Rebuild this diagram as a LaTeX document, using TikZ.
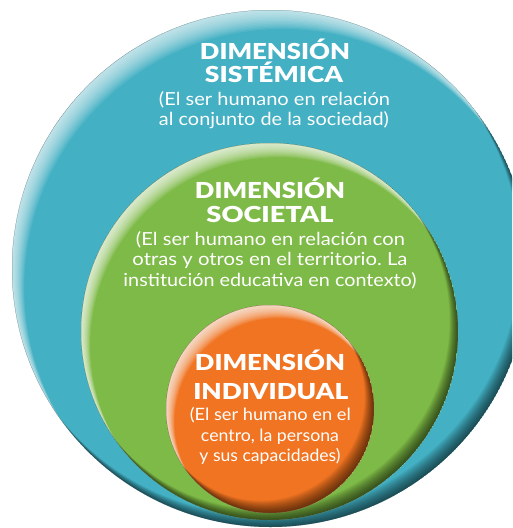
\documentclass[tikz,border=0pt]{standalone}
\usepackage{fontspec}
\usepackage{graphicx}
\setmainfont{Lato}
\IfFontExistsTF{Lato Black}{\newfontfamily\ttlfont{Lato Black}}{\newcommand{\ttlfont}{\bfseries}}
\frenchspacing
\definecolor{tealc}{RGB}{67,176,195}
\definecolor{greenc}{RGB}{126,186,71}
\definecolor{orangec}{RGB}{240,116,34}
\newcommand{\fitw}[2]{\resizebox{#1pt}{\height}{#2}}
% disc with highlight (upper-left) and shadow (lower-right)
\newcommand{\glowdisc}[7]{% cx cy r color hlstep shstep hlopacity
  \fill[#4] (#1,#2) circle (#3pt);
  \begin{scope}
    \clip (#1,#2) circle (#3pt);
    \foreach \k in {1,...,14} {
      \fill[white, opacity=#7, even odd rule] (#1,#2) circle (#3pt)
        ({#1+0.55*\k*#5},{#2+0.85*\k*#5}) circle (#3pt);
    }
    \foreach \k in {1,...,14} {
      \fill[black, opacity=0.05, even odd rule] (#1,#2) circle (#3pt)
        ({#1-0.6*\k*#6},{#2-0.8*\k*#6}) circle (#3pt);
    }
  \end{scope}
}
\tikzset{
  ttl/.style={text=white, inner sep=0pt, anchor=base, font=\fontsize{22}{22}\selectfont\ttlfont},
  sub/.style={text=white, inner sep=0pt, anchor=base, font=\fontsize{18}{18}\selectfont},
  subsm/.style={text=white, inner sep=0pt, anchor=base, font=\fontsize{17}{17}\selectfont}
}
\begin{document}
\begin{tikzpicture}[x=1pt,y=-1pt]
\useasboundingbox (0,0) rectangle (512,528);
\clip (0,0) rectangle (512,528);
\glowdisc{270.5}{268.5}{258.5}{tealc}{1.6}{1.1}{0.08}
\glowdisc{269.5}{331.5}{188.5}{greenc}{1.2}{1.0}{0.09}
\glowdisc{270}{409}{104}{orangec}{1.1}{1.1}{0.09}

\node[ttl] (s1) at (275,59) {\fitw{150}{DIMENSIÓN}};
\node[ttl] (s2) at (274,82) {\fitw{138}{SISTÉMICA}};
\node[sub] (s3) at (274.5,105) {\fitw{231}{(El ser humano en relación}};
\node[sub] (s4) at (274,125) {\fitw{230}{al conjunto de la sociedad)}};

\node[ttl] (c1) at (270,198) {\fitw{150}{DIMENSIÓN}};
\node[ttl] (c2) at (270,222.7) {\fitw{127}{SOCIETAL}};
\node[sub] (c3) at (270.5,245) {\fitw{269}{(El ser humano en relación con}};
\node[sub] (c4) at (270,265.7) {\fitw{275}{otras y otros en el territorio. La}};
\node[sub] (c5) at (270,286.7) {\fitw{293}{institución educativa en contexto)}};

\node[ttl] (i1) at (270,370) {\fitw{150}{DIMENSIÓN}};
\node[ttl] (i2) at (270.8,399.3) {\fitw{155}{INDIVIDUAL}};
\node[subsm] (i3) at (270.3,420.7) {\fitw{161}{(El ser humano en el}};
\node[subsm] (i4) at (270,441.7) {\fitw{138}{centro, la persona}};
\node[subsm] (i5) at (270,461.7) {\fitw{141}{y sus capacidades)}};
\end{tikzpicture}
\end{document}
